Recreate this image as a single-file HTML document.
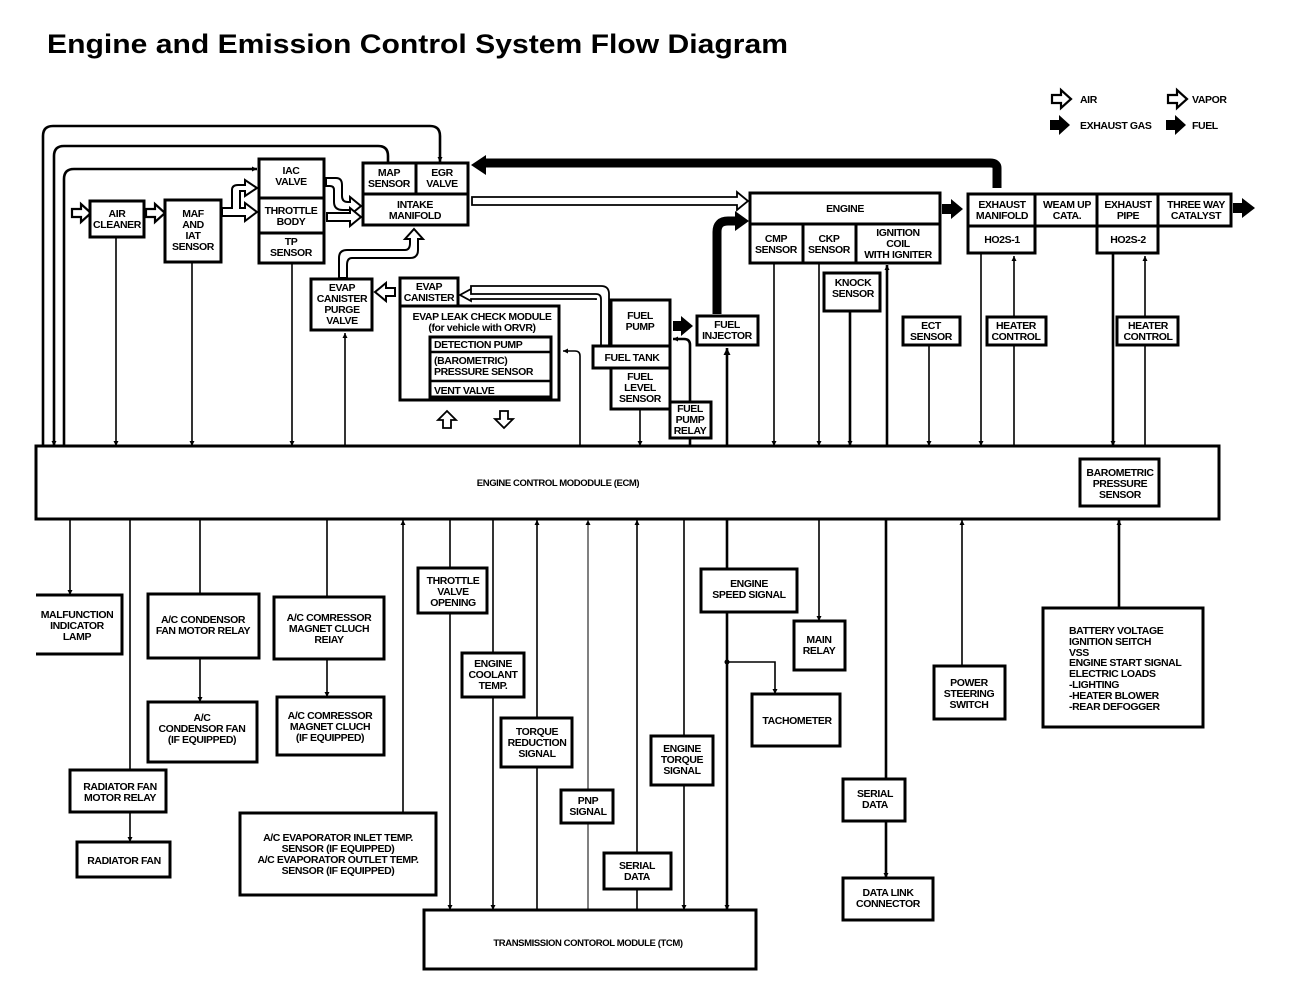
<!DOCTYPE html>
<html><head><meta charset="utf-8"><style>
html,body{margin:0;padding:0;background:#fff;}
svg{display:block;}
text{font-family:"Liberation Sans",sans-serif;font-weight:bold;font-size:10.5px;fill:#000;text-anchor:middle;letter-spacing:-0.4px;}
.b{fill:#fff;stroke:#000;stroke-width:3;}
.l{fill:none;stroke:#000;stroke-width:1.6;}
.t{fill:none;stroke:#000;stroke-width:2.6;}
</style></head><body>
<svg width="1312" height="994" viewBox="0 0 1312 994" xmlns="http://www.w3.org/2000/svg">
<defs>
<marker id="a" viewBox="0 0 10 10" refX="10" refY="5" markerWidth="5" markerHeight="5" markerUnits="userSpaceOnUse" orient="auto"><path d="M0,0L10,5L0,10z" fill="#000"/></marker>
<marker id="a2" viewBox="0 0 10 10" refX="10" refY="5" markerWidth="8" markerHeight="7" markerUnits="userSpaceOnUse" orient="auto"><path d="M0,0L10,5L0,10z" fill="#000"/></marker>
<g id="ha"><path d="M0,-4L9,-4L9,-9L19,0L9,9L9,4L0,4z" fill="#fff" stroke="#000" stroke-width="2.2"/></g>
<g id="sa"><path d="M0,-5L9,-5L9,-10L20,0L9,10L9,5L0,5z" fill="#000"/></g>
</defs>
<text x="47" y="53" style="font-size:27px;text-anchor:start;letter-spacing:0" textLength="741" lengthAdjust="spacingAndGlyphs">Engine and Emission Control System Flow Diagram</text>

<!-- legend -->
<use href="#ha" x="1052" y="99"/><text x="1080" y="103" style="text-anchor:start">AIR</text>
<use href="#ha" x="1168" y="99"/><text x="1192" y="103" style="text-anchor:start">VAPOR</text>
<use href="#sa" x="1050" y="125"/><text x="1080" y="129" style="text-anchor:start">EXHAUST GAS</text>
<use href="#sa" x="1166" y="125"/><text x="1192" y="129" style="text-anchor:start">FUEL</text>

<!-- ECM -->
<rect class="b" x="36" y="446" width="1183" height="73"/>
<text x="558" y="486" style="font-size:9.5px">ENGINE CONTROL  MODODULE (ECM)</text>
<rect class="b" x="1080" y="459" width="79" height="47"/>
<text x="1120" y="476">BAROMETRIC</text><text x="1120" y="487">PRESSURE</text><text x="1120" y="498">SENSOR</text>

<!-- top loops -->
<path class="t" d="M43,446V136Q43,126 53,126H430Q440,126 440,136V162" marker-end="url(#a)"/>
<path class="t" d="M54,446V156Q54,146 64,146H378Q388,146 388,156V163"/>
<path d="M54,430V446" class="l" marker-end="url(#a)"/>
<path class="t" d="M64,446V179Q64,169 74,169H257" marker-end="url(#a)"/>

<!-- air cleaner, MAF -->
<use href="#ha" x="72" y="213"/>
<rect class="b" x="90" y="201" width="54" height="36"/>
<text x="117" y="217">AIR</text><text x="117" y="228">CLEANER</text>
<use href="#ha" x="146" y="213"/>
<rect class="b" x="165" y="200" width="56" height="62"/>
<text x="193" y="217">MAF</text><text x="193" y="228">AND</text><text x="193" y="239">IAT</text><text x="193" y="250">SENSOR</text>

<!-- IAC / throttle / TP -->
<rect class="b" x="259" y="159" width="65" height="104"/>
<line x1="259" y1="198" x2="324" y2="198" stroke="#000" stroke-width="3"/>
<line x1="259" y1="233" x2="324" y2="233" stroke="#000" stroke-width="3"/>
<text x="291" y="174">IAC</text><text x="291" y="185">VALVE</text>
<text x="291" y="214">THROTTLE</text><text x="291" y="225">BODY</text>
<text x="291" y="245">TP</text><text x="291" y="256">SENSOR</text>
<path d="M222,208H232V190Q232,185 238,185H245V180L257,188L245,196V191H240V208H245V203L257,212L245,221V216H222z" fill="#fff" stroke="#000" stroke-width="2"/>
<path d="M326,178H336Q342,178 342,185V196Q342,202 348,202H350V197L361,206L350,215V210H343Q334,210 334,202V190Q334,186 330,186H326z" fill="#fff" stroke="#000" stroke-width="2"/>
<path d="M327,213H350V208L361,217L350,226V221H327z" fill="#fff" stroke="#000" stroke-width="2"/>

<!-- MAP EGR intake -->
<rect class="b" x="363" y="163" width="105" height="62"/>
<line x1="363" y1="194" x2="468" y2="194" stroke="#000" stroke-width="3"/>
<line x1="416" y1="163" x2="416" y2="194" stroke="#000" stroke-width="3"/>
<text x="389" y="176">MAP</text><text x="389" y="187">SENSOR</text>
<text x="442" y="176">EGR</text><text x="442" y="187">VALVE</text>
<text x="415" y="208">INTAKE</text><text x="415" y="219">MANIFOLD</text>

<!-- exhaust return thick -->
<path d="M997,188V168Q997,163 990,163H484" fill="none" stroke="#000" stroke-width="9"/>
<path d="M471,165L486,155V175z" fill="#000"/>

<!-- intake to engine hollow -->
<path d="M472,197H737V192L748,201L737,210V205H472z" fill="#fff" stroke="#000" stroke-width="1.8"/>

<!-- purge valve -->
<rect class="b" x="311" y="279" width="61" height="51"/>
<text x="342" y="291">EVAP</text><text x="342" y="302">CANISTER</text><text x="342" y="313">PURGE</text><text x="342" y="324">VALVE</text>
<path d="M339,278V258Q339,250 347,250H405Q410,250 410,243V239H405L414,229L423,239H418V250Q418,258 410,258H352Q347,258 347,265V278z" fill="#fff" stroke="#000" stroke-width="2"/>
<path class="l" d="M345,446V333" marker-end="url(#a)"/>
<path d="M395,288H386V283L375,292L386,301V296H395z" fill="#fff" stroke="#000" stroke-width="2"/>

<!-- EVAP canister / leak check -->
<rect class="b" x="400" y="278" width="58" height="28"/>
<text x="429" y="290">EVAP</text><text x="429" y="301">CANISTER</text>
<rect class="b" x="400" y="306" width="159" height="94"/>
<text x="482" y="320">EVAP LEAK CHECK MODULE</text><text x="482" y="331">(for vehicle with ORVR)</text>
<rect class="b" x="430" y="337" width="121" height="60"/>
<line x1="430" y1="352" x2="551" y2="352" stroke="#000" stroke-width="2.5"/>
<line x1="430" y1="381" x2="551" y2="381" stroke="#000" stroke-width="2.5"/>
<text x="434" y="348" style="text-anchor:start">DETECTION PUMP</text>
<text x="434" y="364" style="text-anchor:start">(BAROMETRIC)</text><text x="434" y="375" style="text-anchor:start">PRESSURE SENSOR</text>
<text x="434" y="394" style="text-anchor:start">VENT VALVE</text>
<path d="M443,428V420H438L447,411L456,420H451V428z" fill="#fff" stroke="#000" stroke-width="1.8"/>
<path d="M500,411V419H495L504,428L513,419H508V411z" fill="#fff" stroke="#000" stroke-width="1.8"/>
<path d="M601,346V299Q601,294 596,294H471V289L460,295L471,301V299H596V300M609,346V294Q609,286 601,286H471V289" fill="none" stroke="#000" stroke-width="1.8"/>
<path d="M580,446V356Q580,351 575,351H563" class="l" marker-end="url(#a)"/>

<!-- fuel -->
<rect class="b" x="611" y="300" width="59" height="109"/>
<text x="640" y="319">FUEL</text><text x="640" y="330">PUMP</text>
<rect class="b" x="593" y="346" width="77" height="22"/>
<text x="632" y="361">FUEL TANK</text>
<text x="640" y="380">FUEL</text><text x="640" y="391">LEVEL</text><text x="640" y="402">SENSOR</text>
<path class="l" d="M640,409V446" marker-end="url(#a)"/>
<rect class="b" x="670" y="402" width="41" height="36"/>
<text x="690" y="412">FUEL</text><text x="690" y="423">PUMP</text><text x="690" y="434">RELAY</text>
<path class="t" d="M690,446V438M690,402V345Q690,339 684,339H673" marker-end="url(#a)"/>
<path d="M673,321H681V316L693,326L681,336V331H673z" fill="#000"/>
<rect class="b" x="697" y="316" width="61" height="29"/>
<text x="727" y="328">FUEL</text><text x="727" y="339">INJECTOR</text>
<path class="t" d="M727,446V348" marker-end="url(#a2)"/>
<path d="M717,314V232Q717,221 728,221H738" fill="none" stroke="#000" stroke-width="9"/>
<path d="M735,211L749,221L735,231z" fill="#000"/>

<!-- engine -->
<rect class="b" x="750" y="193" width="190" height="70"/>
<line x1="750" y1="224" x2="940" y2="224" stroke="#000" stroke-width="3"/>
<line x1="803" y1="224" x2="803" y2="263" stroke="#000" stroke-width="3"/>
<line x1="856" y1="224" x2="856" y2="263" stroke="#000" stroke-width="3"/>
<text x="845" y="212">ENGINE</text>
<text x="776" y="242">CMP</text><text x="776" y="253">SENSOR</text>
<text x="829" y="242">CKP</text><text x="829" y="253">SENSOR</text>
<text x="898" y="236">IGNITION</text><text x="898" y="247">COIL</text><text x="898" y="258">WITH IGNITER</text>
<path class="l" d="M774,263V446" marker-end="url(#a)"/>
<path class="l" d="M819,263V446" marker-end="url(#a)"/>
<rect class="b" x="824" y="273" width="56" height="38"/>
<text x="853" y="286">KNOCK</text><text x="853" y="297">SENSOR</text>
<path class="t" d="M850,311V446" marker-end="url(#a)"/>
<path class="t" d="M887,446V265" marker-end="url(#a)"/>
<rect class="b" x="903" y="317" width="57" height="28"/>
<text x="931" y="329">ECT</text><text x="931" y="340">SENSOR</text>
<path class="l" d="M929,345V446" marker-end="url(#a)"/>
<path d="M942,204H951V199L963,209L951,219V214H942z" fill="#000"/>

<!-- exhaust -->
<rect class="b" x="968" y="194" width="263" height="32"/>
<line x1="1035" y1="194" x2="1035" y2="226" stroke="#000" stroke-width="3"/>
<line x1="1097" y1="194" x2="1097" y2="226" stroke="#000" stroke-width="3"/>
<line x1="1158" y1="194" x2="1158" y2="226" stroke="#000" stroke-width="3"/>
<rect class="b" x="968" y="226" width="67" height="27"/>
<rect class="b" x="1097" y="226" width="61" height="27"/>
<text x="1002" y="208">EXHAUST</text><text x="1002" y="219">MANIFOLD</text>
<text x="1067" y="208">WEAM UP</text><text x="1067" y="219">CATA.</text>
<text x="1128" y="208">EXHAUST</text><text x="1128" y="219">PIPE</text>
<text x="1196" y="208">THREE WAY</text><text x="1196" y="219">CATALYST</text>
<text x="1002" y="243">HO2S-1</text><text x="1128" y="243">HO2S-2</text>
<path d="M1233,203H1242V198L1255,208L1242,218V213H1233z" fill="#000"/>
<path class="l" d="M981,253V446" marker-end="url(#a)"/>
<path class="l" d="M1014,446V256" marker-end="url(#a)"/>
<rect class="b" x="987" y="317" width="59" height="28"/>
<text x="1016" y="329">HEATER</text><text x="1016" y="340">CONTROL</text>
<path class="t" d="M1113,253V446" marker-end="url(#a)"/>
<path class="l" d="M1145,446V256" marker-end="url(#a)"/>
<rect class="b" x="1117" y="317" width="61" height="28"/>
<text x="1148" y="329">HEATER</text><text x="1148" y="340">CONTROL</text>
<path class="l" d="M116,237V446" marker-end="url(#a)"/>
<path class="l" d="M192,262V446" marker-end="url(#a)"/>
<path class="l" d="M292,263V446" marker-end="url(#a)"/>

<!-- bottom left -->
<path class="l" d="M70,519V595" marker-end="url(#a)"/>
<path d="M36,595H122V654H36" class="b"/>
<text x="77" y="618">MALFUNCTION</text><text x="77" y="629">INDICATOR</text><text x="77" y="640">LAMP</text>
<path class="l" d="M130,519V770"/>
<rect class="b" x="70" y="770" width="96" height="42"/>
<text x="120" y="790">RADIATOR FAN</text><text x="120" y="801">MOTOR RELAY</text>
<path class="l" d="M130,812V842" marker-end="url(#a)"/>
<rect class="b" x="77" y="842" width="93" height="35"/>
<text x="124" y="864">RADIATOR FAN</text>
<path class="l" d="M200,519V594"/>
<rect class="b" x="148" y="594" width="111" height="64"/>
<text x="203" y="623">A/C CONDENSOR</text><text x="203" y="634">FAN MOTOR RELAY</text>
<path class="l" d="M200,658V702" marker-end="url(#a)"/>
<rect class="b" x="148" y="702" width="109" height="60"/>
<text x="202" y="721">A/C</text><text x="202" y="732">CONDENSOR FAN</text><text x="202" y="743">(IF EQUIPPED)</text>
<path class="l" d="M327,519V597"/>
<rect class="b" x="274" y="597" width="110" height="62"/>
<text x="329" y="621">A/C COMRESSOR</text><text x="329" y="632">MAGNET CLUCH</text><text x="329" y="643">REIAY</text>
<path class="l" d="M327,659V697" marker-end="url(#a)"/>
<rect class="b" x="277" y="697" width="107" height="58"/>
<text x="330" y="719">A/C COMRESSOR</text><text x="330" y="730">MAGNET CLUCH</text><text x="330" y="741">(IF EQUIPPED)</text>
<rect class="b" x="240" y="813" width="196" height="82"/>
<text x="338" y="841">A/C EVAPORATOR INLET TEMP.</text><text x="338" y="852">SENSOR (IF EQUIPPED)</text>
<text x="338" y="863">A/C EVAPORATOR OUTLET TEMP.</text><text x="338" y="874">SENSOR (IF EQUIPPED)</text>
<path class="l" d="M403,813V520" marker-end="url(#a)"/>

<!-- TCM signals -->
<rect class="b" x="424" y="910" width="332" height="59"/>
<text x="588" y="946" style="font-size:9.5px">TRANSMISSION CONTOROL MODULE (TCM)</text>
<path class="l" d="M450,519V910" marker-end="url(#a)"/>
<rect class="b" x="418" y="568" width="69" height="45"/>
<text x="453" y="584">THROTTLE</text><text x="453" y="595">VALVE</text><text x="453" y="606">OPENING</text>
<path class="l" d="M493,519V910" marker-end="url(#a)"/>
<rect class="b" x="462" y="653" width="62" height="44"/>
<text x="493" y="667">ENGINE</text><text x="493" y="678">COOLANT</text><text x="493" y="689">TEMP.</text>
<path class="l" d="M537,910V520" marker-end="url(#a)"/>
<rect class="b" x="501" y="718" width="71" height="49"/>
<text x="537" y="735">TORQUE</text><text x="537" y="746">REDUCTION</text><text x="537" y="757">SIGNAL</text>
<path d="M588,910V520" stroke="#000" stroke-width="1" fill="none" marker-end="url(#a)"/>
<rect class="b" x="561" y="790" width="52" height="33"/>
<text x="588" y="804">PNP</text><text x="588" y="815">SIGNAL</text>
<path class="l" d="M637,910V520" marker-end="url(#a)"/>
<rect class="b" x="604" y="853" width="67" height="36"/>
<text x="637" y="869">SERIAL</text><text x="637" y="880">DATA</text>
<path class="l" d="M684,519V910" marker-end="url(#a)"/>
<rect class="b" x="651" y="736" width="62" height="49"/>
<text x="682" y="752">ENGINE</text><text x="682" y="763">TORQUE</text><text x="682" y="774">SIGNAL</text>
<path class="t" d="M727,519V910" marker-end="url(#a)"/>
<rect class="b" x="701" y="569" width="96" height="43"/>
<text x="749" y="587">ENGINE</text><text x="749" y="598">SPEED SIGNAL</text>
<circle cx="727" cy="662" r="2.5"/>
<path class="l" d="M727,662H775V694" marker-end="url(#a)"/>
<rect class="b" x="752" y="694" width="88" height="52"/>
<text x="797" y="724">TACHOMETER</text>
<path class="l" d="M819,519V621" marker-end="url(#a)"/>
<rect class="b" x="794" y="621" width="51" height="49"/>
<text x="819" y="643">MAIN</text><text x="819" y="654">RELAY</text>
<path class="t" d="M886,519V779"/>
<rect class="b" x="843" y="779" width="62" height="42"/>
<text x="875" y="797">SERIAL</text><text x="875" y="808">DATA</text>
<path class="t" d="M886,821V878" marker-end="url(#a)"/>
<rect class="b" x="843" y="878" width="90" height="42"/>
<text x="888" y="896">DATA LINK</text><text x="888" y="907">CONNECTOR</text>
<path class="l" d="M962,666V520" marker-end="url(#a)"/>
<rect class="b" x="934" y="666" width="71" height="53"/>
<text x="969" y="686">POWER</text><text x="969" y="697">STEERING</text><text x="969" y="708">SWITCH</text>
<path class="t" d="M1119,608V520" marker-end="url(#a)"/>
<rect class="b" x="1043" y="608" width="160" height="119"/>
<text x="1069" y="634" style="text-anchor:start">BATTERY VOLTAGE</text>
<text x="1069" y="645" style="text-anchor:start">IGNITION SEITCH</text>
<text x="1069" y="656" style="text-anchor:start">VSS</text>
<text x="1069" y="666" style="text-anchor:start">ENGINE START SIGNAL</text>
<text x="1069" y="677" style="text-anchor:start">ELECTRIC LOADS</text>
<text x="1069" y="688" style="text-anchor:start">-LIGHTING</text>
<text x="1069" y="699" style="text-anchor:start">-HEATER BLOWER</text>
<text x="1069" y="710" style="text-anchor:start">-REAR DEFOGGER</text>
</svg>
</body></html>
